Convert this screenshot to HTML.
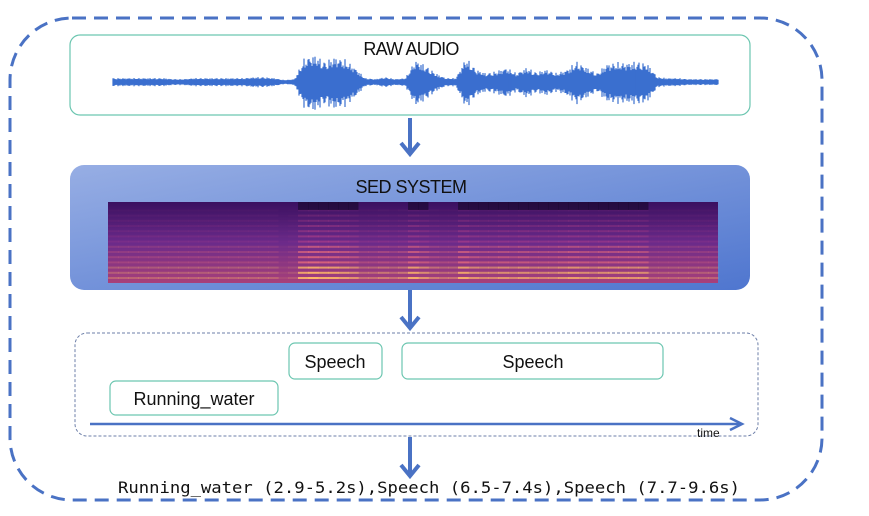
<!DOCTYPE html>
<html><head><meta charset="utf-8"><style>
body{margin:0;background:#fff;}
svg{display:block;font-family:"Liberation Sans",sans-serif;}
</style></head><body>
<svg width="869" height="516" viewBox="0 0 869 516" xmlns="http://www.w3.org/2000/svg">
<defs>
<linearGradient id="sedg" x1="0" y1="0" x2="1" y2="1">
<stop offset="0" stop-color="#97aee4"/><stop offset="1" stop-color="#4f76cf"/></linearGradient>
<linearGradient id="spb" x1="0" y1="0" x2="0" y2="1">
<stop offset="0" stop-color="#3a1060"/><stop offset="0.5" stop-color="#6a2a8a"/><stop offset="1" stop-color="#a8407a"/></linearGradient>
</defs>
<rect x="10" y="18" width="812" height="482" rx="62" fill="none" stroke="#4a72c4" stroke-width="3" stroke-dasharray="14,8"/>
<rect x="70" y="35" width="680" height="80" rx="10" fill="#fff" stroke="#6cc6b0" stroke-width="1.2"/>
<text x="411" y="55" font-size="18" text-anchor="middle" fill="#111" letter-spacing="-0.8">RAW AUDIO</text>
<g id="wave" stroke="#3a6fcf" stroke-width="1.2"></g>
<line x1="410" y1="118" x2="410" y2="152" stroke="#4a72c4" stroke-width="4"/>
<polyline points="401,143 410,154 419,143" fill="none" stroke="#4a72c4" stroke-width="4"/>
<rect x="70" y="165" width="680" height="125" rx="14" fill="url(#sedg)"/>
<text x="411" y="193" font-size="18" text-anchor="middle" fill="#111" letter-spacing="-0.5">SED SYSTEM</text>
<g id="spec"><rect x="108" y="202" width="610" height="81" fill="url(#spb)"/></g>
<line x1="410" y1="290" x2="410" y2="326" stroke="#4a72c4" stroke-width="4"/>
<polyline points="401,317 410,328 419,317" fill="none" stroke="#4a72c4" stroke-width="4"/>
<rect x="75" y="333" width="683" height="103" rx="12" fill="none" stroke="#6d7fa8" stroke-width="1" stroke-dasharray="3,2"/>
<rect x="289" y="343" width="93" height="36" rx="6" fill="#fff" stroke="#6cc6b0" stroke-width="1.2"/>
<text x="335" y="368" font-size="18" text-anchor="middle" fill="#111">Speech</text>
<rect x="402" y="343" width="261" height="36" rx="6" fill="#fff" stroke="#6cc6b0" stroke-width="1.2"/>
<text x="533" y="368" font-size="18" text-anchor="middle" fill="#111">Speech</text>
<rect x="110" y="381" width="168" height="34" rx="6" fill="#fff" stroke="#6cc6b0" stroke-width="1.2"/>
<text x="194" y="405" font-size="18" text-anchor="middle" fill="#111">Running_water</text>
<line x1="90" y1="424" x2="740" y2="424" stroke="#4a72c4" stroke-width="2.5"/>
<polyline points="730,418 742,424 730,430" fill="none" stroke="#4a72c4" stroke-width="2.5"/>
<text x="697" y="437" font-size="12" fill="#111">time</text>
<line x1="410" y1="437" x2="410" y2="474" stroke="#4a72c4" stroke-width="4"/>
<polyline points="401,465 410,476 419,465" fill="none" stroke="#4a72c4" stroke-width="4"/>
<text x="429" y="493" font-size="16" textLength="622" lengthAdjust="spacingAndGlyphs" text-anchor="middle" font-family="DejaVu Sans Mono, Liberation Mono, monospace" fill="#111">Running_water (2.9-5.2s),Speech (6.5-7.4s),Speech (7.7-9.6s)</text>
</svg>
<script>
const waveAmp=[3,3,3,3,3,3,2,2,3,3,3,3,3,3,4,4,3,1,2,24,27,20,25,22,14,3,2,4,2,3,22,16,8,3,3,24,12,8,10,14,8,14,9,12,8,12,20,14,8,18,19,19,20,18,4,3,3,2,2,2,2];
const specLoud=[0.3,0.3,0.3,0.3,0.3,0.3,0.3,0.3,0.3,0.3,0.3,0.3,0.3,0.3,0.3,0.3,0.3,0.1,0.2,0.9,1,0.9,0.9,0.8,0.7,0.4,0.4,0.5,0.4,0.5,0.9,0.7,0.5,0.4,0.4,0.9,0.7,0.6,0.6,0.7,0.6,0.7,0.6,0.6,0.6,0.7,0.8,0.7,0.6,0.7,0.7,0.7,0.7,0.7,0.3,0.3,0.3,0.3,0.3,0.3,0.3];
(function(){
const ns='http://www.w3.org/2000/svg';
const x0=113,x1=718,cy=82,step=(x1-x0)/(waveAmp.length-1);
const wg=document.getElementById('wave');
for(let x=x0;x<=x1;x+=1){
  const f=(x-x0)/step,i=Math.min(Math.floor(f),waveAmp.length-2),t=f-i;
  const a=waveAmp[i]*(1-t)+waveAmp[i+1]*t;
  const tex=0.55+0.45*Math.abs(Math.sin(x*1.37)*Math.cos(x*0.61));
  const l=document.createElementNS(ns,'line');
  
  
  l.setAttribute('x1',x);l.setAttribute('x2',x);
  l.setAttribute('y1',(cy-a*tex-1).toFixed(1));l.setAttribute('y2',(cy+a*tex*1.1+1).toFixed(1));
  wg.appendChild(l);
}
const g=document.getElementById('spec');
const sw=610/specLoud.length;
specLoud.forEach((v,i)=>{
  for(let b=0;b<14;b++){
    const r=document.createElementNS(ns,'rect');
    
    
    const y=277-b*5.2;
    r.setAttribute('x',(108+i*sw).toFixed(1));r.setAttribute('y',y.toFixed(1));
    r.setAttribute('width',(sw+0.5).toFixed(1));r.setAttribute('height',2);
    const op=Math.max(0,v*(1-b*0.065));
    r.setAttribute('fill',b<3?'#ffb868':(b<7?'#f0707a':'#c84888'));
    r.setAttribute('opacity',op.toFixed(2));
    g.appendChild(r);
  }
  if(v>0.5){const t=document.createElementNS(ns,'rect');
    
    
    t.setAttribute('x',(108+i*sw).toFixed(1));t.setAttribute('y',202);t.setAttribute('width',(sw+0.5).toFixed(1));t.setAttribute('height',8);t.setAttribute('fill','#120824');t.setAttribute('opacity','0.55');g.appendChild(t);}
});
})();
</script>
</body></html>
